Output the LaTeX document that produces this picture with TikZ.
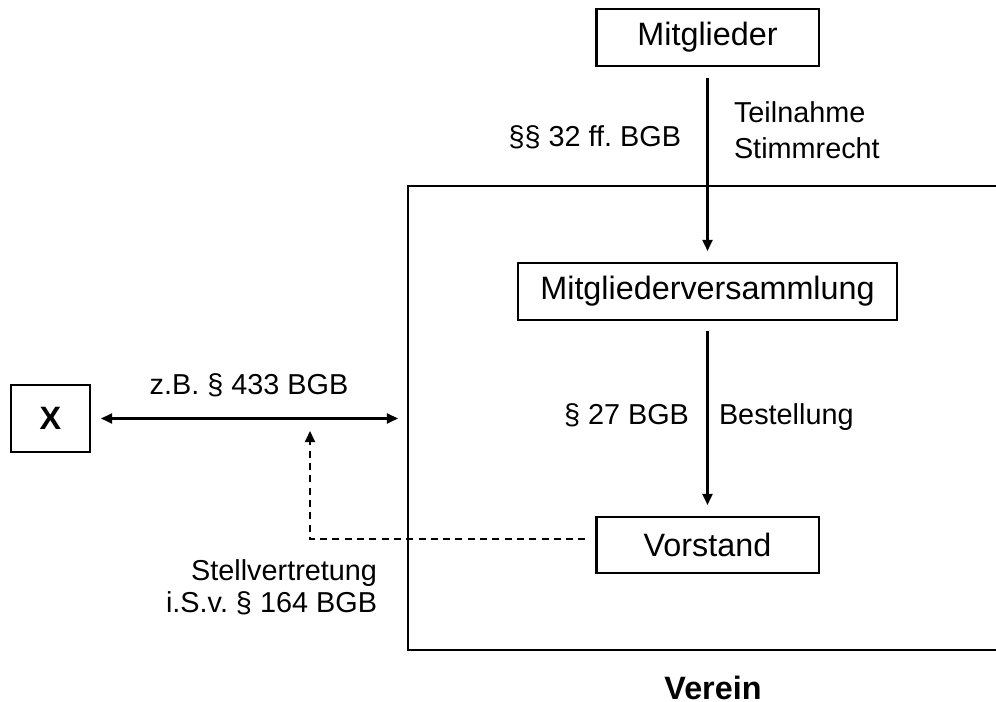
\documentclass[tikz,border=0pt]{standalone}
\usepackage{fontspec}
\setmainfont{Liberation Sans}
\frenchspacing
\usetikzlibrary{calc,arrows.meta}
\newcommand\bigfnt{\fontsize{18.4}{22}\selectfont}
\newcommand\smallfnt{\fontsize{16.4}{20}\selectfont}
\tikzset{box/.style={draw,inner sep=0pt,font=\bigfnt},
lbl/.style={inner sep=0pt,font=\smallfnt}}

\begin{document}
\begin{tikzpicture}[line width=1.15pt,>={Triangle[length=6.3pt,width=5.7pt]}]
\useasboundingbox (0,0) rectangle (19.92,14.04);
\node[box,minimum width=4.44cm,minimum height=1.14cm] (mg) at (14.15,13.29) {Mitglieder};
\node[box,minimum width=7.58cm,minimum height=1.14cm] (mv) at (14.15,8.21) {Mitgliederversammlung};
\node[box,minimum width=4.44cm,minimum height=1.12cm] (vs) at (14.15,3.14) {Vorstand};
\node[box,minimum width=1.58cm,minimum height=1.34cm,font=\bigfnt\bfseries] (x) at (1.01,5.67) {X};
\coordinate (vtl) at (8.16,10.31);
\coordinate (vbl) at (8.16,1.04);
\coordinate (vl) at (8.16,5.67);
\coordinate (st) at (6.2,5.42);
\draw (19.92,10.31) -- (vtl) -- (vbl) -- (19.92,1.04);
\draw[->,shorten <=0.22cm,shorten >=0.22cm] (mg) -- (mv);
\draw[->,shorten <=0.2cm,shorten >=0.22cm] (mv) -- (vs);
\draw[<->,shorten <=0.2cm,shorten >=0.2cm] (x) -- (vl);
\draw[->,dashed,dash pattern=on 4pt off 3pt,shorten <=0.2cm] ([yshift=0.12cm]vs.west) -| (st);
\node[lbl,anchor=base east] (l1) at (13.64,11.1) {§§ 32 ff. BGB};
\node[lbl,anchor=north west,align=left] (l2) at (14.66,12.02) {Teilnahme\\Stimmrecht};
\node[lbl,anchor=base east] (l3) at (13.8,5.54) {§ 27 BGB};
\node[lbl,anchor=base west] (l4) at (14.36,5.54) {Bestellung};
\node[lbl,anchor=base] (l5) at (4.98,6.14) {z.B. § 433 BGB};
\node[lbl,anchor=north east,align=right,font=\fontsize{16.4}{18.2}\selectfont] (l6) at (7.56,2.86) {Stellvertretung\\i.S.v. § 164 BGB};
\node[inner sep=0pt,anchor=base,font=\bigfnt\bfseries] (verein) at (14.26,0.04) {Verein};
\end{tikzpicture}
\end{document}
